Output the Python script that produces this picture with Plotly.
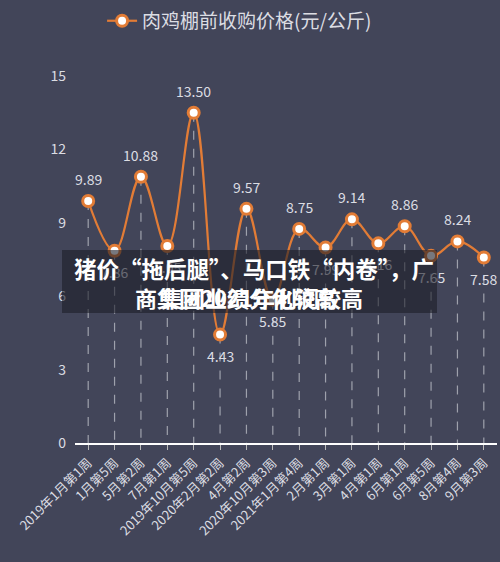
import plotly.graph_objects as go

categories = ["2019年1月第1周", "1月第5周", "5月第2周", "7月第1周", "2019年10月第5周",
              "2020年2月第2周", "4月第2周", "2020年10月第3周", "2021年1月第4周", "2月第1周",
              "3月第1周", "4月第1周", "6月第1周", "6月第5周", "8月第4周", "9月第3周"]
prices = [9.89, 7.86, 10.88, 8.05, 13.50, 4.43, 9.57, 5.85, 8.75, 7.99, 9.14, 8.16, 8.86, 7.65, 8.24, 7.58]
label_below = [False, True, False, True, False, True, False, True, False, True, False, True, False, True, False, True]
series_name = "肉鸡棚前收购价格(元/公斤)"
y_ticks = [0, 3, 6, 9, 12, 15]

FONT = "Noto Sans CJK SC, Noto Sans, sans-serif"
BG = "#424559"
ORANGE = "#e27c36"
TXT = "#dcdde3"

idx = list(range(len(categories)))

# drop lines
dx, dy = [], []
for i, v in zip(idx, prices):
    dx += [i, i, None]
    dy += [v, 0, None]

fig = go.Figure()
fig.add_trace(go.Scatter(x=dx, y=dy, mode="lines", showlegend=False, hoverinfo="skip",
                         line=dict(color="rgba(190,192,200,0.75)", width=1.2, dash="dash")))
fig.add_trace(go.Scatter(x=idx, y=prices, mode="lines+markers", name=series_name,
                         line=dict(color=ORANGE, width=2.2, shape="spline", smoothing=1.1),
                         marker=dict(size=11, color="white", line=dict(color=ORANGE, width=3))))

for i, v, b in zip(idx, prices, label_below):
    fig.add_annotation(x=i, y=v, xref="x", yref="y", text=f"{v:.2f}", showarrow=False,
                       xanchor="center", yanchor="middle", yshift=-21 if b else 22,
                       font=dict(family=FONT, size=14, color=TXT))

fig.update_layout(
    width=500, height=562,
    margin=dict(l=75, r=3, t=75, b=119),
    paper_bgcolor=BG, plot_bgcolor=BG,
    font=dict(family=FONT, color=TXT),
    showlegend=True,
    legend=dict(orientation="h", x=0.39, y=1.147, xanchor="center", yanchor="middle",
                font=dict(family=FONT, size=19, color=TXT), bgcolor="rgba(0,0,0,0)"),
    xaxis=dict(range=[-0.5, 15.5], tickmode="array", tickvals=idx, ticktext=categories,
               tickangle=-45, tickfont=dict(family=FONT, size=13, color=TXT),
               showgrid=False, zeroline=False, showline=True, linecolor="white", linewidth=2,
               ticks="outside", ticklen=5, tickcolor="#bbbbbb"),
    yaxis=dict(range=[0, 15], tickvals=y_ticks, tickfont=dict(family=FONT, size=14, color=TXT),
               showgrid=False, zeroline=False, showline=False, ticks="", ticklabelstandoff=8),
)

# overlay banner (as an annotation so it sits above the value labels)
fig.add_annotation(xref="paper", yref="paper", x=-0.031, y=0.527, xanchor="left", yanchor="top",
                   text=" ", showarrow=False, width=375, height=63, borderpad=0, borderwidth=0,
                   bgcolor="rgba(28,30,40,0.6)", font=dict(size=10))
fig.add_annotation(xref="paper", yref="paper", x=-0.007, y=0.478, xanchor="left", yanchor="middle",
                   text="<b>猪价“拖后腿”、马口铁“内卷”，广</b>", showarrow=False,
                   font=dict(family=FONT, size=22.5, color="white"))
fig.add_annotation(xref="paper", yref="paper", x=0.412, y=0.397, xanchor="center", yanchor="middle",
                   text="<b>商集团2021年利润较高</b>", showarrow=False,
                   font=dict(family=FONT, size=22, color="white"))
fig.add_annotation(xref="paper", yref="paper", x=0.412, y=0.397, xanchor="center", yanchor="middle",
                   text="<b>集团业绩分化较高</b>", showarrow=False,
                   font=dict(family=FONT, size=22, color="white"))

fig.write_html("out.html")
